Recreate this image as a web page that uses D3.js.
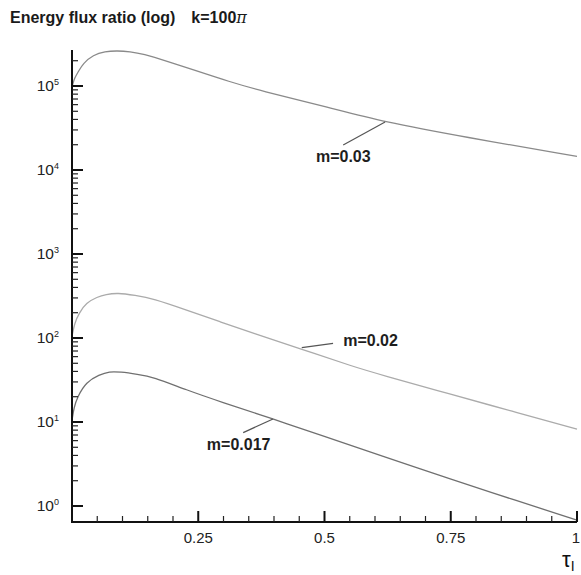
<!DOCTYPE html>
<html>
<head>
<meta charset="utf-8">
<script src="https://cdn.jsdelivr.net/npm/d3@7"></script>
<style>
  body { margin: 0; background: #fff; }
  text { font-family: "Liberation Sans", Arial, Helvetica, sans-serif; }
</style>
</head>
<body>
<div id="chart"></div>
<script>
// curve data (tau, energy flux ratio)
const tau03  = [0, 0.005, 0.0125, 0.022, 0.042, 0.065, 0.09, 0.115, 0.14, 0.19, 0.24, 0.313, 0.37, 0.511, 0.616, 0.774, 1];
const flux03 = [9.8e4, 1.25e5, 1.48e5, 1.86e5, 2.34e5, 2.58e5, 2.63e5, 2.56e5, 2.42e5, 1.96e5, 1.56e5, 1.12e5, 8.9e4, 5.5e4, 3.76e4, 2.49e4, 1.45e4];

const tau02  = [0, 0.005, 0.014, 0.028, 0.05, 0.067, 0.09, 0.125, 0.16, 0.227, 0.293, 0.359, 0.451, 0.56, 0.61, 0.749, 0.87, 1];
const flux02 = [105, 150, 198, 262, 308, 330, 345, 322, 296, 215, 156, 114, 75, 45, 36.8, 21.5, 13.5, 8.25];

const tau017  = [0, 0.004, 0.011, 0.028, 0.054, 0.074, 0.095, 0.13, 0.16, 0.227, 0.293, 0.398, 0.491, 0.61, 0.749, 0.87, 1];
const flux017 = [10.5, 15, 20, 30, 36.5, 40, 39.5, 37, 34.6, 24, 17.5, 10.9, 7.0, 4.0, 2.1, 1.21, 0.68];

const seriesNames  = ["m=0.03", "m=0.02", "m=0.017"];
const seriesColour = ["#8a8a8a", "#ababab", "#707070"];

// label leaders: point on curve -> end near the text, then where the text starts
const leaderTau  = [0.62, 0.455, 0.398];
const leaderVal  = [Math.pow(10, 4.571), Math.pow(10, 1.885), Math.pow(10, 1.036)];
const leaderTau2 = [0.537, 0.517, 0.339];
const leaderVal2 = [Math.pow(10, 4.298), Math.pow(10, 1.937), Math.pow(10, 0.873)];
const textTau    = [0.483, 0.537, 0.267];
const textVal    = [Math.pow(10, 4.095), Math.pow(10, 1.905), Math.pow(10, 0.667)];

// axis ticks
const xMajor = [0.25, 0.5, 0.75, 1];
const xMajorLabels = ["0.25", "0.5", "0.75", "1"];
const yDecades = [0, 1, 2, 3, 4, 5];
const yMin = Math.pow(10, -0.1905);
const yMax = Math.pow(10, 5.4286);

const width = 581;
const height = 575;
const margin = { left: 72, right: 4, top: 50, bottom: 53 };

const svg = d3.select("#chart").append("svg")
    .attr("width", width)
    .attr("height", height);

const x = d3.scaleLinear()
    .domain([0, 1])
    .range([margin.left, width - margin.right]);

const y = d3.scaleLog()
    .domain([yMin, yMax])
    .range([height - margin.bottom, margin.top]);

// title
const title = svg.append("text")
    .attr("x", 10)
    .attr("y", 23)
    .attr("font-size", 16)
    .attr("font-weight", "bold")
    .attr("fill", "#1a1a1a");
title.append("tspan").text("Energy flux ratio (log)");
title.append("tspan").attr("dx", 16).text("k=100");
title.append("tspan").attr("font-weight", "normal").attr("font-family", "DejaVu Serif, serif")
    .attr("font-style", "italic").text("π");

// curves
const line = d3.line()
    .x(d => x(d[0]))
    .y(d => y(d[1]))
    .curve(d3.curveBasis);

const allTau = [tau03, tau02, tau017];
const allFlux = [flux03, flux02, flux017];

allTau.forEach((t, i) => {
    const pts = t.map((v, j) => [v, allFlux[i][j]]);
    svg.append("path")
        .datum(pts)
        .attr("d", line)
        .attr("fill", "none")
        .attr("stroke", seriesColour[i])
        .attr("stroke-width", 1.3);
});

// labels with leader lines
seriesNames.forEach((name, i) => {
    svg.append("line")
        .attr("x1", x(leaderTau[i])).attr("y1", y(leaderVal[i]))
        .attr("x2", x(leaderTau2[i])).attr("y2", y(leaderVal2[i]))
        .attr("stroke", "#555")
        .attr("stroke-width", 1.2);
    svg.append("text")
        .attr("x", x(textTau[i]))
        .attr("y", y(textVal[i]))
        .attr("font-size", 16)
        .attr("font-weight", "bold")
        .attr("fill", "#1e1e1e")
        .text(name);
});

// x axis
const x0 = height - margin.bottom;
svg.append("line")
    .attr("x1", x(0) - 1).attr("x2", x(1))
    .attr("y1", x0).attr("y2", x0)
    .attr("stroke", "#111").attr("stroke-width", 2);

const xMinor = d3.range(1, 20).map(k => k * 0.05).filter(v => Math.abs(v * 4 - Math.round(v * 4)) > 1e-6);
svg.selectAll(".xminor").data(xMinor).enter().append("line")
    .attr("x1", d => x(d)).attr("x2", d => x(d))
    .attr("y1", x0).attr("y2", x0 - 6)
    .attr("stroke", "#222").attr("stroke-width", 1.2);
svg.selectAll(".xmajor").data(xMajor).enter().append("line")
    .attr("x1", d => x(d)).attr("x2", d => x(d))
    .attr("y1", x0).attr("y2", x0 - 11)
    .attr("stroke", "#111").attr("stroke-width", 2);
svg.selectAll(".xlabel").data(xMajor).enter().append("text")
    .attr("x", d => x(d) - (d === 1 ? 1 : 0))
    .attr("y", x0 + 21)
    .attr("text-anchor", "middle")
    .attr("font-size", 15)
    .attr("fill", "#222")
    .text((d, i) => xMajorLabels[i]);

// x axis title
const xt = svg.append("text")
    .attr("x", 562)
    .attr("y", 567)
    .attr("font-family", "DejaVu Serif, 'Liberation Serif', serif")
    .attr("font-size", 22)
    .attr("fill", "#111")
    .text("τ");
xt.append("tspan").attr("dy", 4).attr("font-size", 14).text("I");

// y axis
svg.append("line")
    .attr("x1", x(0)).attr("x2", x(0))
    .attr("y1", margin.top).attr("y2", x0 + 1)
    .attr("stroke", "#111").attr("stroke-width", 2);

const yMinor = [];
yDecades.forEach(d => {
    d3.range(2, 10).forEach(k => {
        const v = k * Math.pow(10, d);
        if (v < yMax) yMinor.push(v);
    });
});
svg.selectAll(".yminor").data(yMinor).enter().append("line")
    .attr("x1", x(0)).attr("x2", x(0) + 6)
    .attr("y1", d => y(d)).attr("y2", d => y(d))
    .attr("stroke", "#222").attr("stroke-width", 1.2);
svg.selectAll(".ymajor").data(yDecades).enter().append("line")
    .attr("x1", x(0)).attr("x2", x(0) + 11)
    .attr("y1", d => y(Math.pow(10, d))).attr("y2", d => y(Math.pow(10, d)))
    .attr("stroke", "#111").attr("stroke-width", 2);

const ylab = svg.selectAll(".ylabel").data(yDecades).enter().append("text")
    .attr("x", 59)
    .attr("y", d => y(Math.pow(10, d)) + 5)
    .attr("text-anchor", "end")
    .attr("font-size", 15.5)
    .attr("fill", "#222");
ylab.append("tspan").text("10");
ylab.append("tspan").attr("dy", -6).attr("font-size", 9).text(d => d);
</script>
</body>
</html>
